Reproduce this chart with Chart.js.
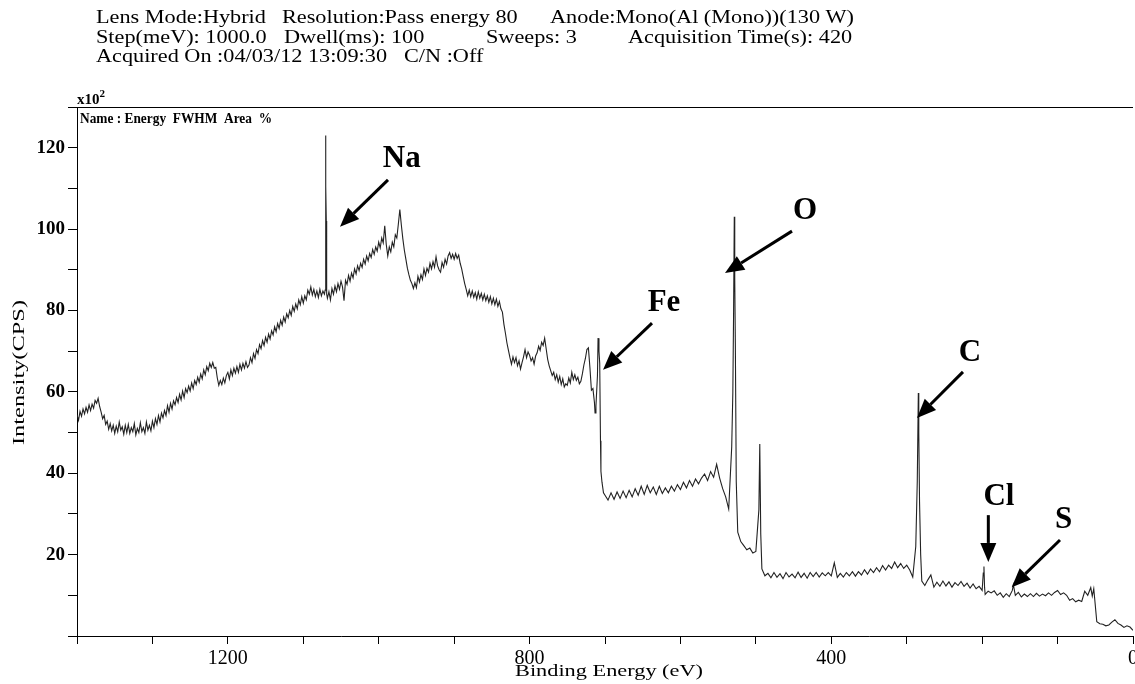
<!DOCTYPE html>
<html>
<head>
<meta charset="utf-8">
<script src="https://cdn.jsdelivr.net/npm/chart.js@4.4.1/dist/chart.umd.min.js"></script>
<style>
  html, body { margin: 0; padding: 0; background: #fff; }
  #wrap { width: 1135px; height: 684px; }
</style>
</head>
<body>
<div id="wrap"><canvas id="c" width="1135" height="684"></canvas></div>
<script>
// XPS survey spectrum, intensity in units of 10^2 CPS.
// Each block starts at the given binding energy and runs toward lower energy
// with a fixed spacing: 2 eV in the noisy high-BE background, 4 eV below 700 eV.
const be1400 = [54.4, 53.0, 55.2, 54.0, 55.8, 54.6, 56.2, 55.0, 56.8, 55.4, 57.0, 56.0, 57.9, 57.2, 58.4, 56.4, 55.0, 53.4, 54.2, 52.0, 52.8, 50.8, 52.2, 50.4, 51.8,
                49.8, 51.6, 50.2, 52.6, 50.6, 51.4, 49.6, 51.8, 50.0, 52.0, 49.8, 51.2, 50.2, 52.2, 49.4, 51.0, 50.0, 52.4, 50.2, 51.2, 49.8, 52.6, 50.6, 51.8, 50.4];
const be1300 = [52.8, 51.2, 53.4, 52.0, 54.2, 52.6, 54.8, 53.6, 55.4, 54.2, 56.6, 55.0, 57.2, 55.8, 57.8, 56.8, 58.6, 57.4, 59.4, 58.0, 60.2, 58.6, 60.8, 59.8, 61.4,
                60.2, 62.2, 60.8, 62.8, 61.8, 63.6, 62.4, 64.4, 63.2, 65.4, 64.2, 66.2, 65.2, 67.0, 66.0, 67.2, 65.8, 66.0, 63.4, 61.6, 62.8, 61.8, 63.4, 62.2, 64.0];
const be1200 = [64.8, 63.2, 65.4, 64.0, 65.8, 64.6, 66.2, 64.8, 66.8, 65.4, 67.0, 65.8, 67.4, 66.0, 66.6, 68.4, 67.2, 69.4, 68.2, 70.4, 69.4, 71.6, 70.6, 72.6, 71.4,
                73.4, 72.2, 74.2, 73.0, 75.0, 74.0, 76.0, 74.8, 76.8, 75.6, 77.6, 76.4, 78.4, 77.2, 79.2, 78.2, 80.0, 78.8, 81.0, 79.8, 81.6, 80.4, 82.6, 81.4, 83.4];
const be1100 = [81.8, 83.6, 82.6, 85.0, 84.0, 85.8, 83.8, 85.2, 83.4, 84.8, 83.2, 85.2, 83.6, 84.8, 84.0, 110.5, 83.0, 84.6, 82.6, 85.4, 84.0, 86.0, 84.6, 86.6, 85.2,
                87.2, 85.8, 82.4, 87.4, 86.4, 88.6, 87.2, 89.2, 88.0, 90.2, 89.0, 91.0, 89.8, 91.6, 90.6, 92.6, 91.4, 93.4, 92.2, 94.0, 93.0, 95.0, 93.8, 95.6, 94.6];
const be1000 = [96.8, 95.4, 97.8, 96.6, 100.8, 96.2, 93.4, 95.6, 94.4, 96.8, 95.6, 98.6, 97.8, 101.2, 104.8, 101.0, 97.6, 94.8, 92.6, 90.4, 88.8, 87.4, 86.6, 85.4, 86.8,
                85.6, 88.4, 87.0, 88.8, 87.6, 90.2, 88.6, 90.4, 89.4, 91.6, 90.2, 92.0, 90.6, 93.2, 91.0, 90.0, 89.4, 91.8, 90.6, 92.6, 91.4, 93.4, 94.2, 92.8, 93.8];
const be900  = [92.6, 94.0, 92.8, 93.6, 91.6, 90.2, 88.4, 86.6, 85.2, 83.6, 85.0, 83.4, 84.8, 83.2, 84.4, 82.8, 84.6, 83.0, 84.2, 82.6, 84.0, 82.4, 83.6, 82.0, 83.4,
                81.6, 83.0, 81.4, 82.8, 81.0, 82.2, 80.4, 79.6, 76.6, 74.4, 72.0, 70.2, 68.4, 66.8, 68.6, 67.2, 68.4, 66.4, 67.6, 65.6, 67.2, 68.6, 70.4, 68.4, 69.8];
const be800  = [69.0, 67.6, 68.4, 66.8, 68.8, 69.6, 71.2, 70.2, 72.2, 71.4, 73.2, 70.6, 68.0, 66.4, 65.2, 64.0, 64.8, 63.0, 64.2, 62.4, 63.8, 61.8, 63.2, 61.2, 62.0,
                61.6, 63.4, 62.2, 64.8, 63.0, 64.2, 62.8, 63.6, 62.0, 62.6, 64.4, 66.6, 68.2, 70.4, 70.8, 66.0, 60.4, 60.8, 57.4, 56.5, 64.0, 70.0, 48.0, 37.8, 35.2];
const be700  = [34.6, 33.4, 35.2, 33.6, 35.4, 33.8, 35.6, 34.0, 35.8, 34.2, 36.2, 34.6, 36.8, 34.8, 37.0, 35.2, 36.6, 34.8, 36.8, 35.0, 36.4, 35.2, 36.8, 35.6, 37.2];
const be600  = [36.0, 37.8, 36.4, 38.2, 36.8, 38.6, 37.4, 38.8, 39.8, 38.2, 40.4, 39.0, 42.2, 38.8, 36.2, 34.2, 31.2, 46.5, 88.0, 25.5, 23.2, 22.2, 21.2, 21.6, 20.4];
const be500  = [20.8, 31.0, 16.5, 14.8, 15.4, 14.3, 15.6, 14.4, 15.3, 14.1, 15.6, 14.5, 15.2, 14.3, 15.7, 14.4, 15.4, 14.2, 15.6, 14.6, 15.6, 14.5, 15.5, 14.8, 15.6];
const be400  = [14.8, 18.0, 14.4, 15.4, 14.5, 15.6, 14.8, 15.8, 14.7, 15.8, 15.0, 16.3, 15.2, 16.5, 15.6, 16.8, 15.8, 17.3, 16.2, 17.4, 16.6, 18.2, 16.8, 17.8, 16.6];
const be300  = [17.4, 16.2, 14.5, 22.0, 50.0, 13.5, 12.4, 13.8, 15.0, 12.0, 13.2, 12.2, 13.5, 12.3, 13.3, 12.0, 13.1, 12.4, 13.4, 12.2, 13.0, 11.8, 12.8, 11.6, 12.2];
const be200  = [11.2, 10.2, 11.0, 10.6, 11.1, 10.0, 10.6, 9.5, 10.4, 9.7, 11.2, 10.0, 10.7, 9.6, 10.3, 9.7, 10.4, 9.7, 10.5, 9.8, 10.3, 9.9, 10.6, 10.0, 10.7];
const be100  = [11.2, 10.2, 10.6, 10.0, 8.8, 9.2, 8.4, 8.8, 8.5, 11.0, 10.0, 11.9, 11.6, 3.5, 3.0, 2.9, 2.5, 2.7, 3.4, 4.0, 3.1, 2.7, 2.1, 2.5, 2.2, 1.4];

// [start energy, spacing in eV, intensities]
const surveyBlocks = [
  [1400, 2, be1400], [1300, 2, be1300], [1200, 2, be1200], [1100, 2, be1100],
  [1000, 2, be1000], [900, 2, be900], [800, 2, be800],
  [700, 4, be700], [600, 4, be600], [500, 4, be500], [400, 4, be400],
  [300, 4, be300], [200, 4, be200], [100, 4, be100]
];

// Narrow photoelectron lines between survey points, [binding energy eV, intensity]
const naLine  = [[1071, 85.0], [1070.5, 123.0], [1069.5, 102.0], [1069, 84.0]];
const feLines = [[713.2, 54.8], [709.2, 73.2], [707, 67.0], [705.4, 40.5]];
const oLine   = [[530.5, 60.0], [529.5, 80.0], [528.6, 103.0], [527.2, 72.0], [526, 38.0]];
const naAuger = [[494.8, 47.2], [493.5, 25.0]];
const cLine   = [[286, 38.0], [284.6, 59.7], [283, 33.0], [281.5, 20.0]];
const clLine  = [[198.5, 15.5], [197.6, 17.1], [196.8, 12.0]];
const sLine   = [[158.6, 12.6]];
const fe3p    = [[54, 9.8]];

const energyTickLabels = [1200, 800, 400, 0];
const intensityTickLabels = [20, 40, 60, 80, 100, 120];

// Element labels: text, label anchor, arrow tail and arrow head (eV, intensity)
const peakNotes = [
  { text: 'Na', at: [969.5, 117.2], from: [987.7, 112.1], to: [1051.3, 100.6] },
  { text: 'O',  at: [434.8, 104.4], from: [452.1, 99.5],  to: [540.9, 89.2] },
  { text: 'Fe', at: [621.8, 81.8],  from: [637.7, 76.9],  to: [702.6, 65.4] },
  { text: 'C',  at: [216.1, 69.6],  from: [225.4, 64.9],  to: [286.4, 53.6] },
  { text: 'Cl', at: [177.7, 34.2],  from: [191.8, 29.7],  to: [191.8, 18.2] },
  { text: 'S',  at: [92.1, 28.5],   from: [96.8, 23.6],   to: [160.8, 12.0] }
];

// acquisition header, one list per row: [left edge, text]
const headerRows = [
  [[96, 'Lens Mode:Hybrid'], [282, 'Resolution:Pass energy 80'], [550, 'Anode:Mono(Al (Mono))(130 W)']],
  [[96, 'Step(meV): 1000.0'], [284, 'Dwell(ms): 100'], [486, 'Sweeps: 3'], [628, 'Acquisition Time(s): 420']],
  [[96, 'Acquired On :04/03/12 13:09:30'], [404, 'C/N :Off']]
];

// assemble the spectrum
const spectrum = [];
surveyBlocks.forEach(([start, step, vals]) => {
  vals.forEach((v, i) => spectrum.push({ x: start - step * i, y: v }));
});
[naLine, feLines, oLine, naAuger, cLine, clLine, sLine, fe3p].forEach(list => {
  list.forEach(([e, v]) => spectrum.push({ x: e, y: v }));
});
spectrum.sort((a, b) => b.x - a.x);

const SERIF = '"Liberation Serif", "DejaVu Serif", serif';

function drawArrow(ctx, x1, y1, x2, y2) {
  const ang = Math.atan2(y2 - y1, x2 - x1);
  const headLen = 19, headHalf = 8;
  const bx = x2 - headLen * Math.cos(ang), by = y2 - headLen * Math.sin(ang);
  ctx.beginPath();
  ctx.moveTo(x1, y1);
  ctx.lineTo(bx, by);
  ctx.lineWidth = 3;
  ctx.stroke();
  ctx.beginPath();
  ctx.moveTo(x2, y2);
  ctx.lineTo(bx + headHalf * Math.sin(ang), by - headHalf * Math.cos(ang));
  ctx.lineTo(bx - headHalf * Math.sin(ang), by + headHalf * Math.cos(ang));
  ctx.closePath();
  ctx.fill();
}

// text stretched horizontally by sx, anchored at its left edge
function wideText(ctx, txt, x, y, sx) {
  ctx.save();
  ctx.translate(x, y);
  ctx.scale(sx, 1);
  ctx.fillText(txt, 0, 0);
  ctx.restore();
}

const decorations = {
  id: 'decorations',
  afterDraw(chart) {
    const { ctx, chartArea: area, scales: { x, y } } = chart;
    ctx.save();
    ctx.fillStyle = '#000';
    ctx.strokeStyle = '#000';

    // top frame line
    ctx.lineWidth = 1;
    ctx.beginPath();
    ctx.moveTo(area.left, Math.round(area.top) + 0.5);
    ctx.lineTo(area.right, Math.round(area.top) + 0.5);
    ctx.stroke();

    // acquisition header
    ctx.font = '18px ' + SERIF;
    ctx.textBaseline = 'alphabetic';
    ctx.textAlign = 'left';
    const hx = 304 / ctx.measureText(headerRows[0][2][1]).width;
    headerRows.forEach((row, r) => {
      row.forEach(([px, txt]) => wideText(ctx, txt, px, 23 + r * 19.5, hx));
    });

    // scale multiplier and peak table header
    ctx.font = 'bold 15px ' + SERIF;
    ctx.fillText('x10', area.left, area.top - 3);
    const w = ctx.measureText('x10').width;
    ctx.font = 'bold 11px ' + SERIF;
    ctx.fillText('2', area.left + w, area.top - 10);
    ctx.font = 'bold 14px ' + SERIF;
    const nameTxt = 'Name : Energy  FWHM  Area  %';
    wideText(ctx, nameTxt, area.left + 3, area.top + 16, 192 / ctx.measureText(nameTxt).width);

    // axis titles
    ctx.font = '17px ' + SERIF;
    ctx.textBaseline = 'middle';
    const xTitle = 'Binding Energy (eV)';
    wideText(ctx, xTitle, 515, 672, 188 / ctx.measureText(xTitle).width);
    ctx.save();
    ctx.translate(20, 445);
    ctx.rotate(-Math.PI / 2);
    ctx.font = '17px ' + SERIF;
    const yTitle = 'Intensity(CPS)';
    wideText(ctx, yTitle, 0, 0, 145 / ctx.measureText(yTitle).width);
    ctx.restore();

    // element labels and arrows
    peakNotes.forEach(n => {
      ctx.font = 'bold 31px ' + SERIF;
      ctx.textAlign = 'center';
      ctx.textBaseline = 'middle';
      ctx.fillText(n.text, x.getPixelForValue(n.at[0]), y.getPixelForValue(n.at[1]));
      drawArrow(ctx,
        x.getPixelForValue(n.from[0]), y.getPixelForValue(n.from[1]),
        x.getPixelForValue(n.to[0]), y.getPixelForValue(n.to[1]));
    });
    ctx.restore();
  }
};

new Chart(document.getElementById('c'), {
  type: 'line',
  data: {
    datasets: [{
      data: spectrum,
      borderColor: '#222',
      borderWidth: 1.1,
      pointRadius: 0,
      tension: 0,
      fill: false
    }]
  },
  options: {
    responsive: false,
    animation: false,
    events: [],
    layout: { padding: { top: 107, right: 2, left: 0, bottom: 0 } },
    plugins: { legend: { display: false }, tooltip: { enabled: false } },
    scales: {
      x: {
        type: 'linear',
        reverse: true,
        min: 0,
        max: 1400,
        ticks: {
          stepSize: 100,
          autoSkip: false,
          maxRotation: 0,
          padding: 3,
          color: '#000',
          font: { family: SERIF, size: 20 },
          callback: v => energyTickLabels.includes(v) ? String(v) : ''
        },
        grid: { drawOnChartArea: false, tickLength: 8, color: '#000', lineWidth: 1 },
        border: { color: '#000', width: 1 },
        afterFit: s => { s.height = 48; s.paddingLeft = 0; s.paddingRight = 0; }
      },
      y: {
        min: 0,
        max: 130,
        ticks: {
          stepSize: 10,
          autoSkip: false,
          padding: 3,
          color: '#000',
          font: { family: SERIF, size: 19, weight: 'bold' },
          callback: v => intensityTickLabels.includes(v) ? String(v) : ''
        },
        grid: { drawOnChartArea: false, tickLength: 9, color: '#000', lineWidth: 1 },
        border: { color: '#000', width: 1 },
        afterFit: s => { s.width = 77; s.paddingTop = 0; s.paddingBottom = 0; }
      }
    }
  },
  plugins: [decorations]
});
</script>
</body>
</html>
